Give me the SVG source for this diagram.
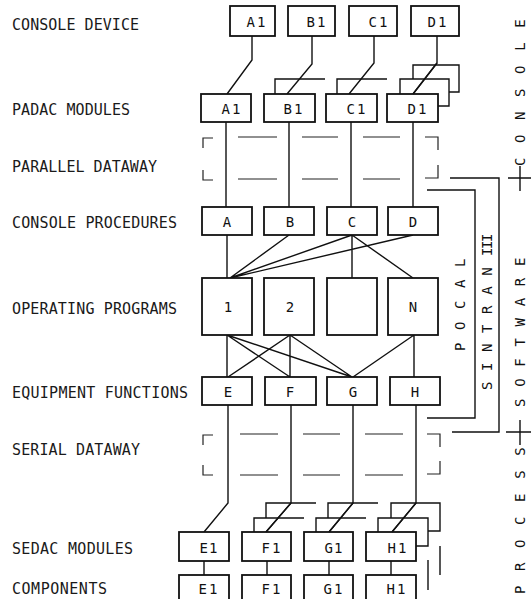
<svg xmlns="http://www.w3.org/2000/svg" width="531" height="599" viewBox="0 0 531 599">
<style>
.bg{fill:#fff}
.box{fill:#fff;stroke:#111;stroke-width:1.8}
.ln{fill:none;stroke:#111;stroke-width:1.4;stroke-linejoin:miter}
.ds{fill:none;stroke:#222;stroke-width:1.2}
.lbl{font-family:"DejaVu Sans Mono",monospace;font-size:15px;fill:#1a1a1a}
.bt{font-family:"DejaVu Sans Mono",monospace;font-size:14px;fill:#111;text-anchor:middle}
.rt{font-family:"DejaVu Sans Mono",monospace;font-size:14px;fill:#111}
</style>
<rect class="bg" x="0" y="0" width="531" height="599"/>

<g id="labels">
<text class="lbl" x="12" y="30" textLength="127" lengthAdjust="spacing">CONSOLE DEVICE</text>
<text class="lbl" x="12" y="115" textLength="118" lengthAdjust="spacing">PADAC MODULES</text>
<text class="lbl" x="12" y="172" textLength="145" lengthAdjust="spacing">PARALLEL DATAWAY</text>
<text class="lbl" x="12" y="228" textLength="165" lengthAdjust="spacing">CONSOLE PROCEDURES</text>
<text class="lbl" x="12" y="314" textLength="165" lengthAdjust="spacing">OPERATING PROGRAMS</text>
<text class="lbl" x="12" y="398" textLength="176" lengthAdjust="spacing">EQUIPMENT FUNCTIONS</text>
<text class="lbl" x="12" y="455" textLength="128" lengthAdjust="spacing">SERIAL DATAWAY</text>
<text class="lbl" x="12" y="554" textLength="121" lengthAdjust="spacing">SEDAC MODULES</text>
<text class="lbl" x="12" y="594" textLength="95" lengthAdjust="spacing">COMPONENTS</text>
</g>

<g id="connectors">
<path class="ln" d="M252,36 V60 L227,94"/>
<path class="ln" d="M312,36 V64 L287,94"/>
<path class="ln" d="M374,36 V63 L349,94"/>
<path class="ln" d="M437,36 V63 L413,94"/>
<path class="ln" d="M226,122 V207 M289,122 V207 M351,122 V207 M413,122 V207"/>
<path class="ln" d="M227,235 V278 M289,235 L230,278 M352,235 L230,278 M413,235 L230,278 M352,235 V278 M352,235 L413,278"/>
<path class="ln" d="M227,335 V377 M227,335 L290,377 M227,335 L352,377 M290,335 L228,377 M290,335 V377 M290,335 L352,377 M414,335 L353,377 M414,335 V377"/>
<path class="ln" d="M228,405 V503 L204,532 M291,405 V503 L266,532 M353,405 V503 L329,532 M416,405 V503 L392,532"/>
<path class="ln" d="M204,561 V575 M267,561 V575 M329,561 V575 M391,561 V575"/>
<path class="ln" d="M427,190 H475 V418 H427"/>
<path class="ln" d="M450,178 H499 V432 H452"/>
<path class="ln" d="M508,178 H531 M520,166 V191"/>
<path class="ln" d="M506,432 H531 M520,420 V445"/>
</g>

<g id="parallel-dataway">
<path class="ds" d="M213,138 H203 V148 M203,170 V180 H213"/>
<path class="ds" d="M238,137 H277 M302,137 H338 M363,137 H400 M238,179 H277 M302,179 H338 M363,179 H400"/>
<path class="ds" d="M425,137 H438 V150 M438,165 V178 H425"/>
</g>

<g id="serial-dataway">
<path class="ds" d="M213,435 H203 V445 M203,465 V475 H213"/>
<path class="ds" d="M240,434 H278 M303,434 H340 M365,434 H403 M240,475 H278 M303,475 H340 M365,475 H403"/>
<path class="ds" d="M427,434 H440 V447 M440,461 V474 H427"/>
</g>

<g id="console-device">
<g id="cd-a1"><rect class="box" x="230" y="6" width="45" height="30"/><text class="bt" x="257" y="27" letter-spacing="2">A1</text></g>
<g id="cd-b1"><rect class="box" x="288" y="6" width="47" height="30"/><text class="bt" x="317" y="27" letter-spacing="2">B1</text></g>
<g id="cd-c1"><rect class="box" x="349" y="6" width="48" height="30"/><text class="bt" x="379" y="27" letter-spacing="2">C1</text></g>
<g id="cd-d1"><rect class="box" x="411" y="6" width="48" height="30"/><text class="bt" x="438" y="27" letter-spacing="2">D1</text></g>
</g>

<g id="padac">
<g id="pd-a1"><rect class="box" x="201" y="94" width="50" height="28"/><text class="bt" x="232" y="114" letter-spacing="2">A1</text></g>
<g id="pd-b1"><path class="ln" d="M275,94 V79 H325"/><rect class="box" x="264" y="94" width="51" height="28"/><text class="bt" x="294" y="114" letter-spacing="2">B1</text></g>
<g id="pd-c1"><path class="ln" d="M337,94 V79 H387"/><rect class="box" x="326" y="94" width="51" height="28"/><text class="bt" x="357" y="114" letter-spacing="2">C1</text></g>
<g id="pd-d1"><path class="ln" d="M413,79 V65 H459 V92 H449"/><path class="ln" d="M400,94 V79 H449 V106 H438"/><rect class="box" x="387" y="94" width="51" height="28"/><text class="bt" x="418" y="114" letter-spacing="2">D1</text></g>
</g>
<path class="ln" d="M437,63 L413,94"/>

<g id="console-procedures">
<g id="cp-a"><rect class="box" x="202" y="207" width="50" height="28"/><text class="bt" x="227" y="227">A</text></g>
<g id="cp-b"><rect class="box" x="264" y="207" width="50" height="28"/><text class="bt" x="290" y="227">B</text></g>
<g id="cp-c"><rect class="box" x="327" y="207" width="50" height="28"/><text class="bt" x="352" y="227">C</text></g>
<g id="cp-d"><rect class="box" x="388" y="207" width="50" height="28"/><text class="bt" x="413" y="227">D</text></g>
</g>

<g id="operating-programs">
<g id="op-1"><rect class="box" x="202" y="278" width="50" height="57"/><text class="bt" x="228" y="312">1</text></g>
<g id="op-2"><rect class="box" x="264" y="278" width="50" height="57"/><text class="bt" x="290" y="312">2</text></g>
<g id="op-blank"><rect class="box" x="327" y="278" width="50" height="57"/></g>
<g id="op-n"><rect class="box" x="388" y="278" width="50" height="57"/><text class="bt" x="413" y="312">N</text></g>
</g>

<g id="equipment-functions">
<g id="ef-e"><rect class="box" x="202" y="377" width="50" height="28"/><text class="bt" x="228" y="397">E</text></g>
<g id="ef-f"><rect class="box" x="265" y="377" width="51" height="28"/><text class="bt" x="290" y="397">F</text></g>
<g id="ef-g"><rect class="box" x="327" y="377" width="50" height="28"/><text class="bt" x="353" y="397">G</text></g>
<g id="ef-h"><rect class="box" x="390" y="377" width="50" height="28"/><text class="bt" x="415" y="397">H</text></g>
</g>

<g id="sedac">
<g id="sd-e1"><rect class="box" x="179" y="532" width="50" height="29"/><text class="bt" x="209" y="553" letter-spacing="1">E1</text></g>
<g id="sd-f1"><path class="ln" d="M266,518 V503 H316 M254,532 V518 H304"/><rect class="box" x="242" y="532" width="49" height="29"/><text class="bt" x="272" y="553" letter-spacing="2">F1</text></g>
<g id="sd-g1"><path class="ln" d="M328,518 V503 H378 M316,532 V518 H366"/><rect class="box" x="304" y="532" width="49" height="29"/><text class="bt" x="334" y="553" letter-spacing="1">G1</text></g>
<g id="sd-h1"><path class="ln" d="M391,518 V503 H440 V531 H428 M378,532 V518 H428 V546 H416"/><rect class="box" x="366" y="532" width="50" height="29"/><text class="bt" x="398" y="553" letter-spacing="2">H1</text></g>
<path class="ln" d="M428,560 V590 M440,546 V575"/>
</g>
<path class="ln" d="M291,503 L266,532 M353,503 L329,532 M416,503 L392,532"/>

<g id="components">
<g id="c-e1"><rect class="box" x="179" y="575" width="50" height="28"/><text class="bt" x="209" y="594" letter-spacing="2">E1</text></g>
<g id="c-f1"><rect class="box" x="242" y="575" width="49" height="28"/><text class="bt" x="272" y="594" letter-spacing="2">F1</text></g>
<g id="c-g1"><rect class="box" x="304" y="575" width="49" height="28"/><text class="bt" x="334" y="594" letter-spacing="2">G1</text></g>
<g id="c-h1"><rect class="box" x="366" y="575" width="50" height="28"/><text class="bt" x="397" y="594" letter-spacing="2">H1</text></g>
</g>

<g id="side-labels">
<text class="rt" transform="translate(465,351) rotate(-90)" letter-spacing="12.6">POCAL</text>
<text class="rt" transform="translate(492,390) rotate(-90)"><tspan letter-spacing="10.6">SINTRA</tspan><tspan letter-spacing="1.5">N </tspan><tspan letter-spacing="-1.5">III</tspan></text>
<text class="rt" transform="translate(525,166) rotate(-90)" letter-spacing="14.6">CONSOLE</text>
<text class="rt" transform="translate(525,407) rotate(-90)" letter-spacing="11.7">SOFTWARE</text>
<text class="rt" transform="translate(525,594) rotate(-90)" letter-spacing="14.6">PROCESS</text>
</g>
</svg>
